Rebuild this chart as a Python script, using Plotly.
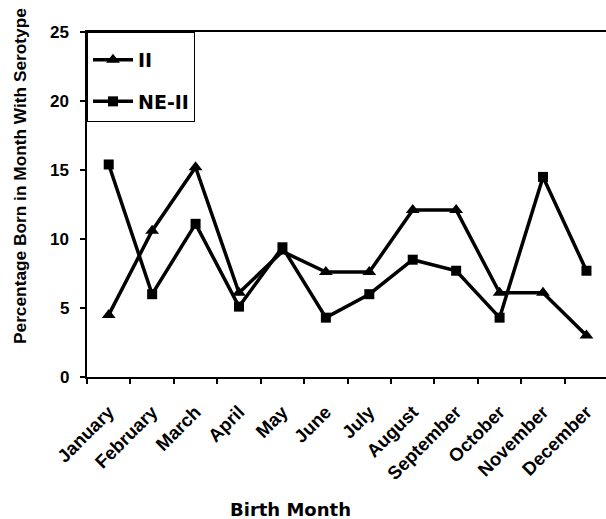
import plotly.graph_objects as go

months = ["January", "February", "March", "April", "May", "June", "July",
          "August", "September", "October", "November", "December"]
ii_values = [4.5, 10.6, 15.2, 6.1, 9.1, 7.6, 7.6, 12.1, 12.1, 6.1, 6.1, 3.0]
ne_ii_values = [15.4, 6.0, 11.1, 5.1, 9.4, 4.3, 6.0, 8.5, 7.7, 4.3, 14.5, 7.7]
y_ticks = [0, 5, 10, 15, 20, 25]

WIDE = "DejaVu Sans, sans-serif"
FONT = "Liberation Sans, Arial, sans-serif"
NB = "\u00a0"

fig = go.Figure()
fig.add_trace(go.Scatter(
    x=months, y=ii_values, name="<b>II</b>", mode="lines+markers",
    line=dict(color="black", width=3.5),
    marker=dict(symbol="triangle-up", size=12, color="black"),
    legendgroup="a"))
fig.add_trace(go.Scatter(
    x=months, y=ne_ii_values, name="<b>NE-II</b>", mode="lines+markers",
    line=dict(color="black", width=3.5),
    marker=dict(symbol="square", size=10, color="black"),
    legendgroup="b"))

ytick_annots = [
    dict(text="<b>%d</b>" % v, xref="paper", yref="y",
         x=-(87 - 71) / 519, y=v, xanchor="right", yanchor="middle",
         showarrow=False, font=dict(size=17, family=FONT))
    for v in y_ticks
]

fig.update_layout(
    width=606, height=519,
    margin=dict(l=87, r=0, t=32, b=142),
    paper_bgcolor="white", plot_bgcolor="white",
    font=dict(family=WIDE, color="black"),
    showlegend=True,
    legend=dict(x=0, y=1, xanchor="left", yanchor="top",
                bordercolor="black", borderwidth=1, bgcolor="white",
                font=dict(size=19, family=WIDE, color="black"),
                title=dict(text=NB, font=dict(size=6)),
                traceorder="grouped", tracegroupgap=14,
                itemwidth=40),
    xaxis=dict(
        type="category", range=[-0.5, 11.45],
        showline=True, linecolor="black", linewidth=2, mirror=True,
        ticks="outside", tickson="boundaries", ticklen=5, tickwidth=2, tickcolor="black",
        tickangle=-45, tickfont=dict(size=18.5, family=FONT),
        ticklabelstandoff=15,
        tickvals=months, ticktext=["<b>%s</b>" % m for m in months],
        showgrid=False, zeroline=False,
    ),
    yaxis=dict(
        range=[0, 25], tickvals=y_ticks, showticklabels=False,
        showline=True, linecolor="black", linewidth=2,
        ticks="outside", ticklen=5, tickwidth=2, tickcolor="black",
        showgrid=False, zeroline=False,
    ),
    annotations=ytick_annots + [
        dict(text="<b>Birth Month</b>", xref="paper", yref="paper",
             x=(290 - 87) / 519, y=-(509 - 377) / 345, xanchor="center", yanchor="middle",
             showarrow=False, font=dict(size=18, family=WIDE)),
        dict(text="<b>Percentage Born in Month With Serotype</b>", xref="paper", yref="paper",
             x=-(87 - 20) / 519, y=(377 - 176) / 345, xanchor="center", yanchor="middle",
             textangle=-90, showarrow=False, font=dict(size=17.3, family=FONT)),
    ],
)

fig.write_html("out.html")
